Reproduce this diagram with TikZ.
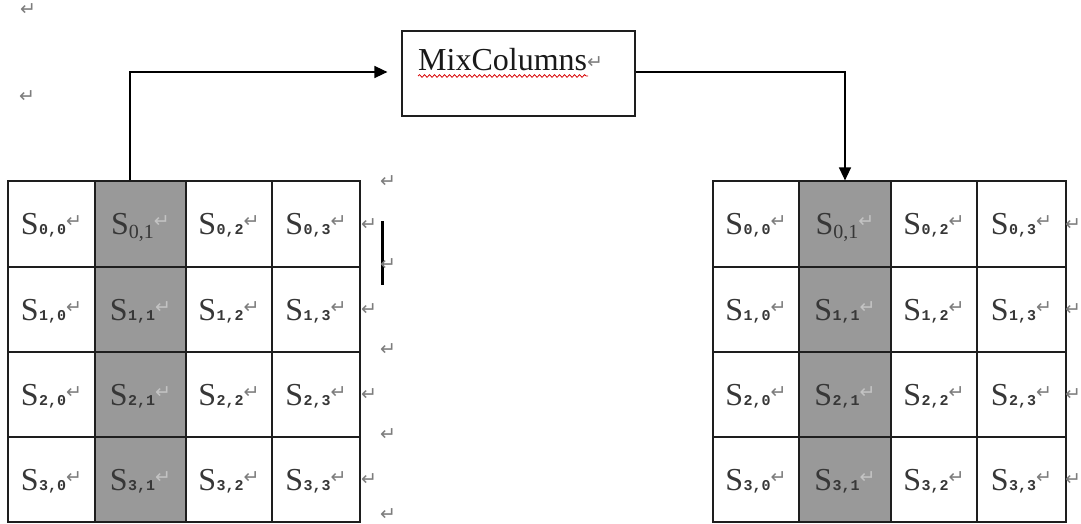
\documentclass[tikz,border=0pt]{standalone}
\usepackage{fontspec}
\setmainfont{Liberation Serif}
\newfontfamily\markfont{DejaVu Sans}
\newfontfamily\subfont{Liberation Mono}
\usetikzlibrary{arrows.meta,decorations.pathmorphing}

\definecolor{shade}{RGB}{153,153,153}
\definecolor{markgray}{RGB}{125,125,125}
\definecolor{marklight}{RGB}{195,195,195}
\definecolor{textgray}{RGB}{55,55,55}
\definecolor{rulegray}{RGB}{30,30,30}

% paragraph mark glyph
\newcommand\pmark[1]{{\markfont\fontsize{19}{19}\selectfont\textcolor{#1}{↵}}}
% subscript of a state byte
\newcommand\plainsub[2]{{\subfont\bfseries\fontsize{15}{15}\selectfont #1,#2}}
% text of one state cell: S_{r,c} followed by a paragraph mark
\newcommand\celltext[2]{%
  \ifnum\numexpr#1*10+#2\relax=1
    S\raisebox{-4pt}{\fontsize{20}{20}\selectfont 0,1}%
  \else
    S\kern0.5pt\plainsub{#1}{#2}%
  \fi
  \raisebox{7pt}{\ifnum#2=1 \pmark{marklight}\else\pmark{markgray}\fi}}

% a 4x4 state grid; #1 name prefix, #2..#6 column edges
\newcommand\stategrid[6]{%
  \foreach \c/\xa/\xb in {0/#2/#3,1/#3/#4,2/#4/#5,3/#5/#6}{%
    \foreach \r/\ya/\yb in {0/181/267,1/267/352,2/352/437,3/437/522}{%
      \pgfmathsetmacro\w{\xb-\xa}%
      \pgfmathsetmacro\h{\yb-\ya}%
      \ifnum\c=1 \def\cellfill{shade}\else\def\cellfill{white}\fi
      \node[cell, fill=\cellfill, minimum width=\w pt, minimum height=\h pt]
        (#1-\r-\c) at ({(\xa+\xb)/2},{(\ya+\yb)/2}) {\celltext{\r}{\c}};
    }}}

\begin{document}
\begin{tikzpicture}[x=1pt,y=-1pt,
  cell/.style={draw=rulegray, line width=1.2pt, inner sep=0pt,
    text height=21pt, text depth=0pt, text=textgray,
    font=\fontsize{32}{32}\selectfont},
  box/.style={draw=rulegray, line width=1.2pt, inner sep=0pt,
    minimum width=233pt, minimum height=85pt},
  conn/.style={draw=black, line width=1.4pt,
    -{Triangle[length=13pt,width=12pt]}},
  retmark/.style={inner sep=0pt}]
\useasboundingbox[fill=white] (0,0) rectangle (1081,524);

% state before and after the transformation
\stategrid{L}{8}{95}{186}{272}{360}
\stategrid{R}{713}{799}{891}{977}{1066}

% the transformation box
\node[box] (mix) at (518.5,73.5) {};
\node[anchor=base west, inner sep=0pt, text=black!90,
  font=\fontsize{32}{32}\selectfont] (mixlabel) at (418,71)
  {MixColumns\raisebox{2pt}{\pmark{markgray}}};
\draw[red!85!black, line width=0.8pt, decorate,
  decoration={snake, amplitude=1.3pt, segment length=5pt}]
  (418,76) -- (588,76);

% column 1 goes through MixColumns
\draw[conn, shorten >=14pt] ([xshift=-10.5pt]L-0-1.north) |- ([yshift=1.5pt]mix.west);
\draw[conn] ([yshift=1.5pt]mix.east) -| (R-0-1.north);

% cursor bar
\draw[line width=3pt] (382,221) -- (382,285);

% paragraph marks outside the grids
\foreach \n/\x/\y in {a/28/10, b/27/97,
    c/388/182, d/388/265, e/388/350, f/388/435, g/388/515,
    h/369/225, i/369/310, j/369/395, k/369/480,
    l/1073/225, m/1073/310, n/1073/395, o/1073/480}{
  \node[retmark] (mark-\n) at (\x,\y) {\pmark{markgray}};
}
\end{tikzpicture}
\end{document}
